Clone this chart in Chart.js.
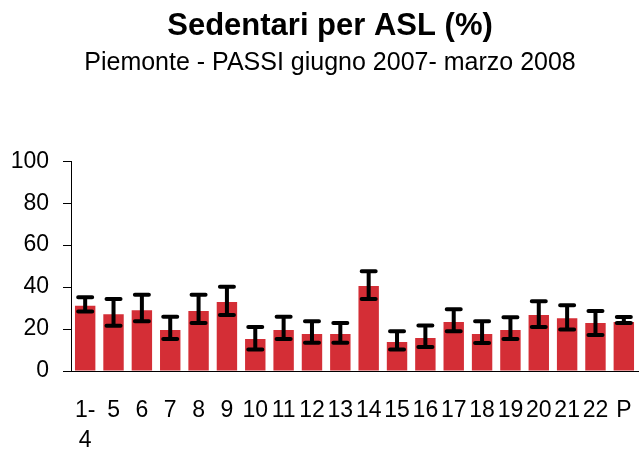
<!DOCTYPE html>
<html>
<head>
<meta charset="utf-8">
<script src="https://cdn.jsdelivr.net/npm/chart.js@4/dist/chart.umd.min.js"></script>
<style>
  html, body { margin: 0; padding: 0; background: #fff; }
  #wrap { width: 640px; height: 449px; }
</style>
</head>
<body>
<div id="wrap"><canvas id="chart"></canvas></div>
<script>
// ASL labels ("1-4" wraps onto two lines, as in the original)
var asl = [["1-", "4"], "5", "6", "7", "8", "9", "10", "11", "12", "13", "14",
           "15", "16", "17", "18", "19", "20", "21", "22", "P"];
// % sedentari
var sedentari = [31.1, 27.1, 29.0, 19.5, 28.6, 32.9, 15.2, 19.5, 17.6, 17.6, 40.5,
                 13.8, 15.7, 23.3, 17.6, 19.5, 26.7, 25.2, 22.9, 23.3];
// 95% confidence interval
var ciLow  = [28.4, 21.6, 23.7, 15.2, 22.9, 26.7, 10.3, 15.2, 13.5, 13.5, 34.3,
              10.3, 11.4, 18.9, 13.3, 15.2, 21.0, 19.8, 17.1, 22.9];
var ciHigh = [35.2, 34.3, 36.3, 25.9, 36.3, 40.2, 21.0, 25.9, 23.7, 22.9, 47.5,
              18.9, 21.7, 29.4, 23.7, 25.6, 33.2, 31.3, 28.6, 25.7];
var yTicks = [0, 20, 40, 60, 80, 100];

var errorBars = {
  id: 'errorBars',
  afterDatasetsDraw: function (chart) {
    var ctx = chart.ctx;
    var y = chart.scales.y;
    var bars = chart.getDatasetMeta(0).data;
    ctx.save();
    ctx.strokeStyle = '#000';
    ctx.lineWidth = 4;
    ctx.lineCap = 'round';
    for (var i = 0; i < bars.length; i++) {
      var x = bars[i].x;
      var top = y.getPixelForValue(ciHigh[i]);
      var bot = y.getPixelForValue(ciLow[i]);
      ctx.beginPath();
      ctx.moveTo(x, top); ctx.lineTo(x, bot);
      ctx.moveTo(x - 7, top); ctx.lineTo(x + 7, top);
      ctx.moveTo(x - 7, bot); ctx.lineTo(x + 7, bot);
      ctx.stroke();
    }
    ctx.restore();
  }
};

// the original titles sit a bit right of the canvas centre
var shiftTitles = {
  id: 'shiftTitles',
  afterLayout: function (chart) {
    chart.boxes.forEach(function (b) {
      if (b.position === 'top') { b.left += 16; }
    });
  }
};

Chart.defaults.font.family = '"Liberation Sans", Arial, sans-serif';
Chart.defaults.color = '#000';

new Chart(document.getElementById('chart'), {
  type: 'bar',
  data: {
    labels: asl,
    datasets: [{
      data: sedentari,
      backgroundColor: '#D42E36',
      barPercentage: 0.72,
      categoryPercentage: 1
    }]
  },
  options: {
    responsive: true,
    maintainAspectRatio: false,
    animation: false,
    layout: { padding: { left: 6, right: 2, top: 0, bottom: 0 } },
    plugins: {
      legend: { display: false },
      tooltip: { enabled: false },
      title: {
        display: true,
        text: 'Sedentari per ASL (%)',
        font: { size: 31, weight: 'bold' },
        padding: { top: 8, bottom: 3 }
      },
      subtitle: {
        display: true,
        text: 'Piemonte - PASSI giugno 2007- marzo 2008',
        font: { size: 25 },
        padding: { top: 0, bottom: 83 }
      }
    },
    scales: {
      x: {
        grid: { display: false },
        border: { color: '#000', width: 1 },
        ticks: { autoSkip: false, maxRotation: 0, font: { size: 23, lineHeight: 1.3 }, padding: 17 },
        afterFit: function (s) { s.height = 78; s.paddingLeft = 0; s.paddingRight = 0; }
      },
      y: {
        min: 0,
        max: 100,
        afterBuildTicks: function (s) { s.ticks = yTicks.map(function (v) { return { value: v }; }); },
        grid: { drawOnChartArea: false, drawTicks: true, tickLength: 8, color: '#000' },
        border: { color: '#000', width: 1 },
        ticks: { font: { size: 23 }, padding: 14 },
        afterFit: function (s) { s.width = 65; }
      }
    }
  },
  plugins: [errorBars, shiftTitles]
});
</script>
</body>
</html>
